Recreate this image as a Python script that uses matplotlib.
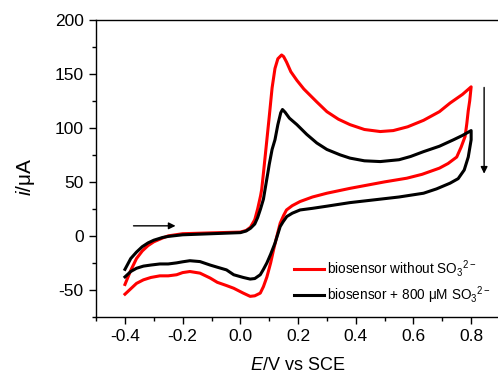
import matplotlib
matplotlib.use("Agg")
import matplotlib.pyplot as plt
from matplotlib.ticker import MultipleLocator

plt.rcParams['font.family'] = ['Liberation Sans', 'DejaVu Sans']
plt.rcParams['mathtext.fontset'] = 'custom'
plt.rcParams['mathtext.rm'] = 'Liberation Sans'
plt.rcParams['mathtext.it'] = 'Liberation Sans:italic'

# Red: biosensor without sulfite (forward then reverse scan)
red_E = [-0.40, -0.38, -0.36, -0.34, -0.32, -0.30, -0.27, -0.25, -0.20, -0.10, 0.00, 0.02, 0.035, 0.05,
         0.06, 0.07, 0.074, 0.08, 0.09, 0.10, 0.11, 0.12, 0.13, 0.143, 0.15, 0.16, 0.175, 0.196, 0.22,
         0.265, 0.30, 0.34, 0.38, 0.43, 0.485, 0.53, 0.58, 0.635, 0.69, 0.727, 0.77, 0.80,
         0.795, 0.79, 0.785, 0.779, 0.765, 0.75, 0.72, 0.69, 0.63, 0.577, 0.50, 0.44, 0.38, 0.30,
         0.25, 0.207, 0.18, 0.16, 0.15, 0.138, 0.125, 0.115, 0.105, 0.092, 0.08, 0.069, 0.05, 0.034,
         0.01, -0.023, -0.048, -0.08, -0.105, -0.14, -0.175, -0.20, -0.221, -0.25, -0.279, -0.31,
         -0.336, -0.36, -0.38, -0.40]
red_i = [-45, -32, -21, -14, -9, -5.5, -2, 0, 2, 2.8, 3.5, 5, 8, 15,
         25, 37, 43, 58, 84, 110, 137, 155, 164, 167.5, 166, 161, 152, 144, 136,
         124, 115, 108, 103, 98.5, 96.6, 97.5, 101, 107, 115, 123, 131, 138,
         125, 116, 104, 92, 82, 73, 67, 62.7, 57, 53.4, 50, 47, 44, 39.5,
         36, 31.8, 28, 24, 19, 11.7, -2, -13, -25, -38, -47, -53, -55.5, -56,
         -53, -48.5, -46, -43, -39, -34.5, -33, -34, -36, -37, -37, -38.5,
         -40.7, -44, -49, -54]

# Black: biosensor + 800 uM sulfite
black_E = [-0.40, -0.38, -0.36, -0.34, -0.32, -0.30, -0.27, -0.25, -0.20, -0.10, 0.00, 0.02, 0.035, 0.05,
           0.06, 0.07, 0.08, 0.085, 0.09, 0.097, 0.10, 0.11, 0.12, 0.13, 0.14, 0.146, 0.155, 0.17, 0.196,
           0.23, 0.265, 0.30, 0.346, 0.38, 0.43, 0.485, 0.55, 0.59, 0.635, 0.69, 0.739, 0.77, 0.80,
           0.80, 0.79, 0.776, 0.755, 0.727, 0.68, 0.635, 0.55, 0.462, 0.38, 0.30, 0.25, 0.207, 0.18,
           0.161, 0.148, 0.138, 0.12, 0.105, 0.092, 0.08, 0.069, 0.05, 0.034, 0.01, -0.023, -0.048,
           -0.08, -0.105, -0.14, -0.175, -0.20, -0.221, -0.25, -0.279, -0.31, -0.336, -0.36, -0.38, -0.40]
black_i = [-31, -21, -15, -10, -6.5, -4, -1.5, -0.5, 1, 2, 3, 4.5, 7, 11,
           17, 25, 34, 42, 50, 61, 66, 80, 89, 103, 114, 117, 114.5, 109, 103,
           94, 86, 80, 75, 72, 69.5, 68.8, 70.5, 73.5, 78, 83, 89, 93, 97.5,
           89, 73, 61, 53, 48.8, 43.5, 39.5, 36, 33.3, 30.8, 27.5, 25.5, 24, 21,
           17.9, 13, 8.6, -6.8, -17, -25, -31, -36, -39.5, -40, -38.5, -36, -31.5,
           -29, -27, -23.8, -23, -24, -25, -26, -26, -27, -28, -30, -33, -38]

labels = ['biosensor without SO$_3$$^{2-}$', 'biosensor + 800 μM SO$_3$$^{2-}$']

fig = plt.figure(figsize=(4.98, 3.75), dpi=100)
ax = fig.add_axes([0.193, 0.155, 0.811, 0.792])

ax.plot(red_E, red_i, color='#ff0000', lw=2.2, label=labels[0])
ax.plot(black_E, black_i, color='black', lw=2.2, label=labels[1])

ax.set_xlim(-0.5, 0.9)
ax.set_ylim(-75, 200)
ax.xaxis.set_minor_locator(MultipleLocator(0.1))
ax.yaxis.set_minor_locator(MultipleLocator(25))
ax.set_xticks([-0.4, -0.2, 0.0, 0.2, 0.4, 0.6, 0.8])
ax.set_xticklabels(['-0.4', '-0.2', '0.0', '0.2', '0.4', '0.6', '0.8'])
ax.set_yticks([-50, 0, 50, 100, 150, 200])
ax.set_yticklabels(['-50', '0', '50', '100', '150', '200'])
ax.tick_params(which='major', direction='out', length=5, width=1, labelsize=12.5, pad=4)
ax.tick_params(which='minor', direction='out', length=3, width=1)
ax.spines['right'].set_visible(False)
for s in ['left', 'bottom', 'top']:
    ax.spines[s].set_linewidth(1)

ax.set_xlabel('$E$/V vs SCE', fontsize=13)
ax.set_ylabel('$i$/μA', fontsize=15)
ax.xaxis.set_label_coords(0.498, -0.135)
ax.yaxis.set_label_coords(-0.146, 0.47)

ax.annotate('', xy=(-0.215, 9.3), xytext=(-0.38, 9.3),
            arrowprops=dict(arrowstyle='-|>', color='black', lw=1, mutation_scale=10))
ax.annotate('', xy=(0.845, 55), xytext=(0.845, 140),
            arrowprops=dict(arrowstyle='-|>', color='black', lw=1, mutation_scale=10))

ax.legend(loc='upper left', bbox_to_anchor=(0.49, 0.197), frameon=False, fontsize=9.8,
          handlelength=2.2, handletextpad=0.25, labelspacing=0.35, borderaxespad=0, borderpad=0)

fig.savefig('out.png', dpi=100)
